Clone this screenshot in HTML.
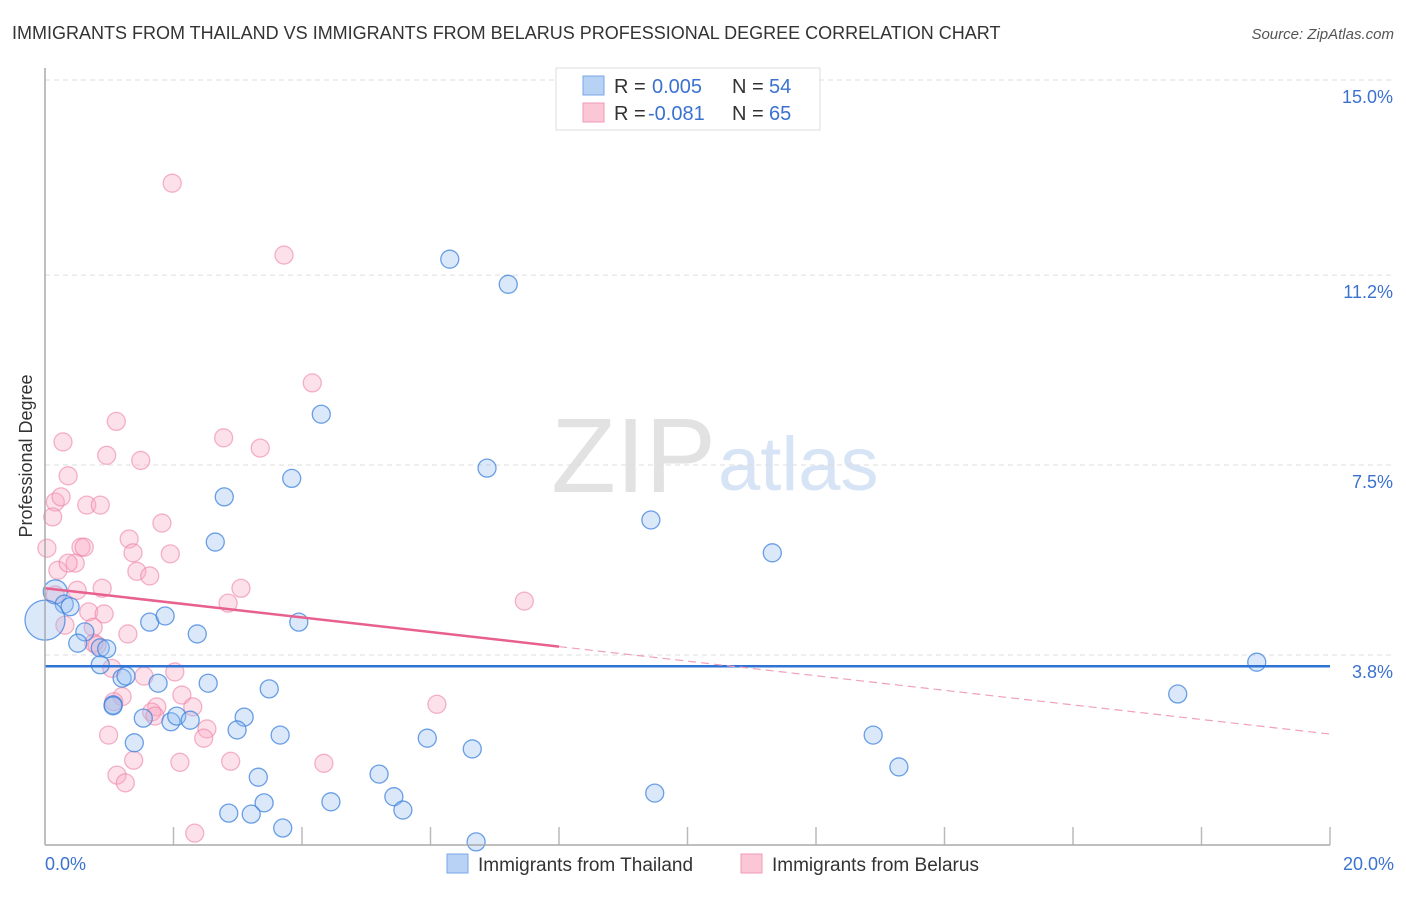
<!DOCTYPE html>
<html><head><meta charset="utf-8"><style>
body{margin:0;background:#fff;font-family:"Liberation Sans",sans-serif;}
svg text{font-family:"Liberation Sans",sans-serif;}
</style></head><body>
<svg id="c" width="1406" height="892">
<text x="12" y="39" font-size="18" fill="#333">IMMIGRANTS FROM THAILAND VS IMMIGRANTS FROM BELARUS PROFESSIONAL DEGREE CORRELATION CHART</text>
<text x="1394" y="39" font-size="15" fill="#555" text-anchor="end" font-style="italic">Source: ZipAtlas.com</text>
<text x="32" y="456" font-size="18" fill="#333" text-anchor="middle" transform="rotate(-90 32 456)">Professional Degree</text>
<text x="716" y="492" font-size="106" fill="#e2e2e2" text-anchor="end" font-family="Liberation Serif">ZIP</text>
<text x="718" y="490" font-size="76" fill="#d6e4f5">atlas</text>
<g id="grid"></g><g id="pts"></g><g id="trend"></g>
<line x1="45" y1="68" x2="45" y2="845" stroke="#aaa" stroke-width="1.5"/>
<line x1="45" y1="845" x2="1330" y2="845" stroke="#aaa" stroke-width="1.5"/>
<text x="45" y="870" font-size="18" fill="#3b72d0">0.0%</text>
<text x="1394" y="870" font-size="18" fill="#3b72d0" text-anchor="end">20.0%</text>
<g>
<rect x="556" y="68" width="264" height="62" fill="#fff" stroke="#ddd"/>
<rect x="583" y="76" width="21" height="19" fill="#b7d2f4" stroke="#7aa6e6"/>
<rect x="583" y="103" width="21" height="19" fill="#fbc7d6" stroke="#f09ab4"/>
<text x="614" y="93" font-size="20" fill="#333">R = </text><text x="652" y="93" font-size="20" fill="#3b72d0">0.005</text>
<text x="732" y="93" font-size="20" fill="#333">N = </text><text x="769" y="93" font-size="20" fill="#3b72d0">54</text>
<text x="614" y="120" font-size="20" fill="#333">R = </text><text x="648" y="120" font-size="20" fill="#3b72d0">-0.081</text>
<text x="732" y="120" font-size="20" fill="#333">N = </text><text x="769" y="120" font-size="20" fill="#3b72d0">65</text>
</g>
<g>
<rect x="447" y="854" width="21" height="19" fill="#b7d2f4" stroke="#7aa6e6"/>
<text x="478" y="871" font-size="19" fill="#333">Immigrants from Thailand</text>
<rect x="741" y="854" width="21" height="19" fill="#fbc7d6" stroke="#f09ab4"/>
<text x="772" y="871" font-size="19" fill="#333">Immigrants from Belarus</text>
</g>
</svg>
<script>
const yTicks=[3.8,7.5,11.2,15.0];
const yTickLabels=["3.8%","7.5%","11.2%","15.0%"];
const xTicks=[2,4,6,8,10,12,14,16,18,20];
// Thailand (blue)
const thX=[6.30,7.21,4.30,6.88,3.84,2.79,9.43,2.65,11.32,0.16,0.30,0.39,0,1.63,1.87,2.37,3.95,0.62,0.51,0.86,0.96,0.86,1.20,1.26,1.76,2.54,3.49,18.86,17.63,1.06,1.06,1.53,1.96,2.05,2.26,3.10,2.99,3.66,5.95,6.65,12.89,1.39,13.29,3.32,5.20,3.41,4.45,5.43,2.86,3.21,5.57,9.49,3.70,6.71];
const thY=[11.51,11.02,8.49,7.44,7.24,6.88,6.43,6.00,5.79,5.03,4.79,4.74,4.48,4.44,4.56,4.21,4.44,4.25,4.03,3.94,3.92,3.61,3.35,3.39,3.25,3.25,3.14,3.66,3.04,2.83,2.81,2.57,2.50,2.61,2.53,2.59,2.34,2.24,2.18,1.97,2.24,2.09,1.62,1.42,1.48,0.92,0.94,1.04,0.72,0.70,0.78,1.11,0.43,0.16];
const thR=[9,9,9,9,9,9,9,9,9,12,9,9,20,9,9,9,9,9,9,9,9,9,9,9,9,9,9,9,9,9,9,9,9,9,9,9,9,9,9,9,9,9,9,9,9,9,9,9,9,9,9,9,9,9];
// Belarus (pink)
const beX=[1.98,3.72,4.16,1.11,2.78,0.28,3.35,0.96,1.49,0.36,0.16,0.25,0.65,0.86,0.12,1.82,1.31,0.56,0.61,0.03,1.37,1.95,0.2,0.47,0.36,1.43,1.63,0.89,0.5,3.05,0.16,2.85,7.46,0.68,0.92,0.31,0.75,1.29,0.76,0.81,1.04,1.54,2.02,1.2,1.07,2.13,2.3,1.74,1.66,1.71,6.1,2.52,0.99,2.47,2.89,2.1,4.34,1.38,1.12,1.25,2.33];
const beY=[12.99,11.59,9.1,8.35,8.03,7.95,7.83,7.69,7.59,7.29,6.78,6.88,6.72,6.72,6.49,6.37,6.06,5.9,5.9,5.88,5.79,5.77,5.45,5.59,5.59,5.43,5.34,5.1,5.06,5.1,4.97,4.81,4.85,4.64,4.6,4.38,4.34,4.21,4.03,3.99,3.54,3.39,3.47,2.99,2.89,3.02,2.79,2.79,2.69,2.61,2.84,2.36,2.24,2.18,1.73,1.71,1.69,1.75,1.46,1.31,0.33];
const trendIntercept=[3.58,5.1];
const trendSlope=[0.0,-0.142];
const X0=45,X1=1330,YT=80,YB=655,V0=15,V1=3.8;
const sx=v=>X0+(X1-X0)*v/20;
const sy=v=>YT+(YB-YT)*(V0-v)/(V0-V1);
const NS="http://www.w3.org/2000/svg";
function mk(t,a,p){const e=document.createElementNS(NS,t);for(const k in a)e.setAttribute(k,a[k]);p.appendChild(e);return e;}
const grid=document.getElementById('grid');
yTicks.forEach((v,i)=>{
 const l=mk('line',{x1:45,x2:1394,y1:sy(v),y2:sy(v),stroke:'#ddd','stroke-dasharray':'5,4'},grid);
 
 
 const t=mk('text',{x:1393,y:sy(v)+23,'font-size':18,fill:'#3b72d0','text-anchor':'end'},grid);
 t.textContent=yTickLabels[i];
 
 
});
xTicks.forEach(v=>{
 const l=mk('line',{x1:sx(v),x2:sx(v),y1:827,y2:845,stroke:'#bbb','stroke-width':1.5},grid);
 
 
});
const pts=document.getElementById('pts');
beX.forEach((v,i)=>{
 const c=mk('circle',{cx:sx(v),cy:sy(beY[i]),r:9,fill:'rgba(248,170,195,0.35)',stroke:'rgba(236,130,165,0.6)','stroke-width':1.3},pts);
 
 
});
thX.forEach((v,i)=>{
 const c=mk('circle',{cx:sx(v),cy:sy(thY[i]),r:thR[i],fill:'rgba(150,190,240,0.35)',stroke:'rgba(60,130,220,0.75)','stroke-width':1.3},pts);
 
 
});
const tr=document.getElementById('trend');
const f=(k,x)=>trendIntercept[k]+trendSlope[k]*x;
let a=mk('line',{x1:sx(0),y1:sy(f(0,0)),x2:sx(20),y2:sy(f(0,20)),stroke:'#2f73d6','stroke-width':2.5},tr);


let b=mk('line',{x1:sx(0),y1:sy(f(1,0)),x2:sx(8),y2:sy(f(1,8)),stroke:'#e8608e','stroke-width':2.5},tr);


let d=mk('line',{x1:sx(8),y1:sy(f(1,8)),x2:sx(20),y2:sy(f(1,20)),stroke:'#f0a0bb','stroke-width':1.2,'stroke-dasharray':'8,5'},tr);


</script>
</body></html>
